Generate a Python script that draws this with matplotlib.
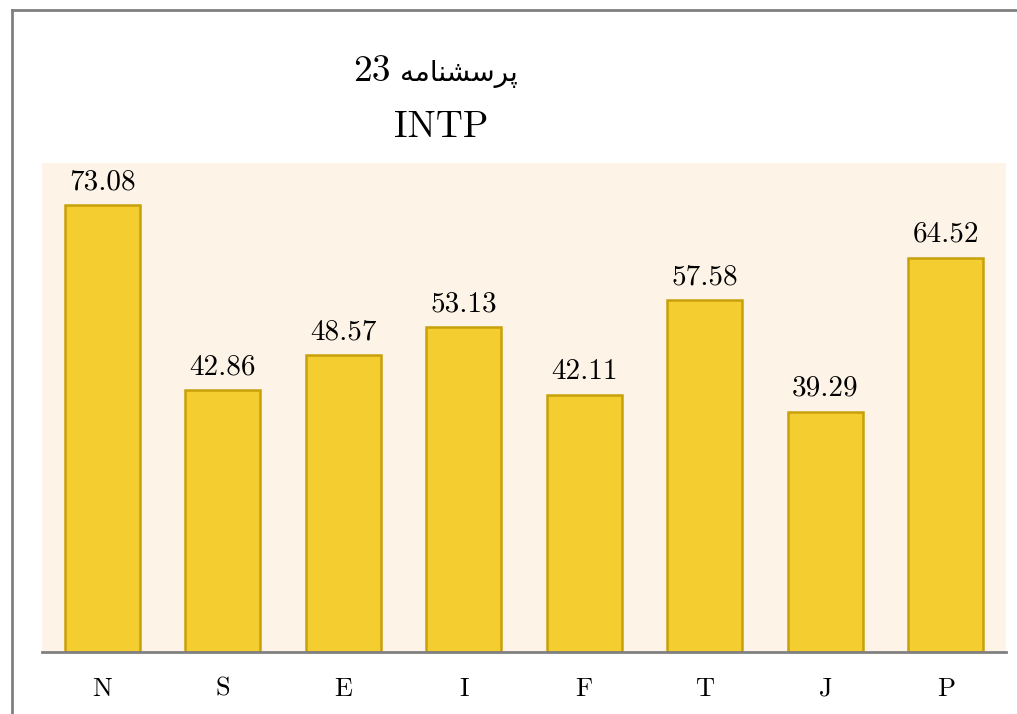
import matplotlib
matplotlib.use("Agg")
import matplotlib.pyplot as plt
from matplotlib.lines import Line2D

# --- Data ---
categories = ["N", "S", "E", "I", "F", "T", "J", "P"]
values = [73.08, 42.86, 48.57, 53.13, 42.11, 57.58, 39.29, 64.52]

# Persian title, pre-shaped (presentation forms, visual order) since matplotlib has no RTL shaping
persian_word = "\uFEEA\uFEE3\uFE8E\uFEE8\uFEB8\uFEB3\uFEAE\uFB58"  # پرسشنامه
title_number = "23"
title_line2 = "INTP"

plt.rcParams["font.family"] = ["cmr10", "DejaVu Sans"]
plt.rcParams["axes.formatter.use_mathtext"] = True

W, H = 1017, 714
fig = plt.figure(figsize=(W / 100, H / 100), dpi=100)

# axes placed in pixel coords: x 42..1006, y 163..652
ax = fig.add_axes([42 / W, 1 - 652 / H, (1006 - 42) / W, (652 - 163) / H])
ax.set_facecolor("#FDF3E7")

x = list(range(len(categories)))
ax.bar(x, values, width=0.62, color="#F4CD30", edgecolor="#C8A00A", linewidth=1.8, zorder=2)

for xi, v in zip(x, values):
    ax.annotate(f"{v:.2f}", (xi, v), xytext=(0, 16), textcoords="offset pixels",
                ha="center", va="baseline", fontsize=21)

ax.set_xlim(-0.5, len(categories) - 0.5)
ax.set_ylim(0, 80)
ax.set_xticks(x)
ax.set_xticklabels(categories, fontsize=19)
ax.tick_params(axis="x", length=0, pad=18)
ax.set_yticks([])

for side in ["top", "right", "left"]:
    ax.spines[side].set_visible(False)
ax.spines["bottom"].set_color("#808080")
ax.spines["bottom"].set_linewidth(2)
ax.spines["bottom"].set_zorder(3)

# titles
fig.text(391 / W, 1 - 81 / H, title_number, ha="right", va="baseline", fontsize=27)
fig.text(400 / W, 1 - 81 / H, persian_word, ha="left", va="baseline", fontsize=20,
         family="DejaVu Sans")
fig.text(441 / W, 1 - 137 / H, title_line2, ha="center", va="baseline", fontsize=27)

# outer frame (left and top edges visible)
fig.add_artist(Line2D([12 / W, 12 / W], [0, 1 - 10 / H], transform=fig.transFigure, color="#808080", linewidth=2))
fig.add_artist(Line2D([12 / W, 1], [1 - 10 / H, 1 - 10 / H], transform=fig.transFigure, color="#808080", linewidth=2))

fig.savefig("out.png", dpi=100)
